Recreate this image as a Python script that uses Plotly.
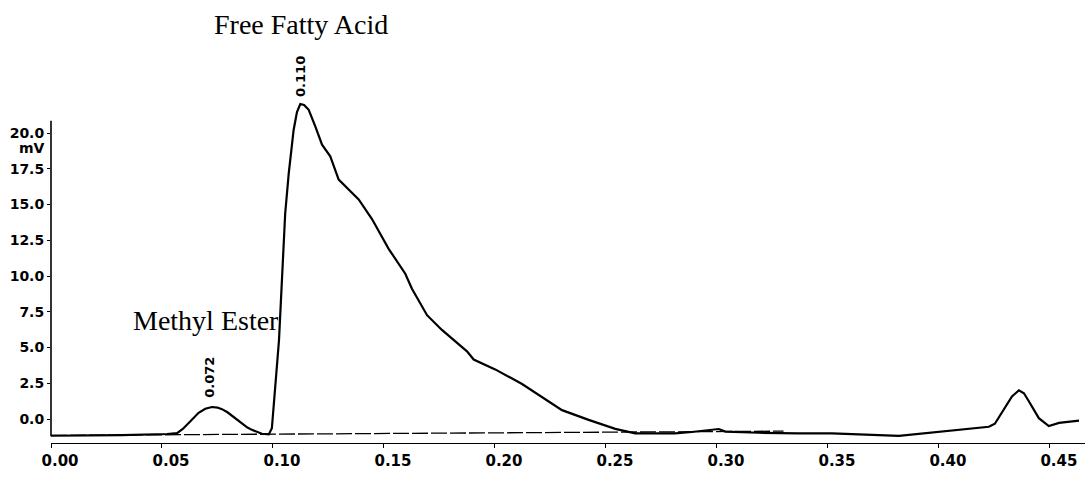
import plotly.graph_objects as go

# Retention time (min) and detector signal (mV)
time_min = [0.000, 0.032, 0.0523, 0.0568, 0.0595, 0.0620, 0.0645, 0.0665, 0.0695, 0.0725,
            0.0750, 0.0770, 0.0795, 0.0815, 0.0840, 0.0860, 0.0885, 0.0905, 0.0930, 0.0950,
            0.0981, 0.0995, 0.1027, 0.1041, 0.1055, 0.1071, 0.1093, 0.1108,
            0.1123, 0.1140, 0.1161, 0.1191, 0.1221, 0.1258, 0.1296, 0.1386, 0.1446, 0.1521,
            0.1596, 0.1626, 0.1694, 0.1761, 0.1874, 0.1904, 0.2001, 0.2122, 0.2212, 0.2302,
            0.2422, 0.2542, 0.2632, 0.2811, 0.2887, 0.3008, 0.3038, 0.3188, 0.3368, 0.3518,
            0.3820, 0.3968, 0.4117, 0.4225, 0.4252, 0.4297, 0.4329, 0.4360, 0.4383, 0.4405,
            0.4450, 0.4495, 0.4541, 0.4631]
signal_mv = [-1.17, -1.13, -1.05, -0.99, -0.68, -0.28, 0.12, 0.43, 0.72, 0.84,
             0.80, 0.69, 0.47, 0.22, -0.10, -0.35, -0.60, -0.76, -0.93, -1.03,
             -1.08, -0.65, 5.50, 9.71, 14.37, 17.17, 20.21, 21.47,
             22.03, 21.96, 21.62, 20.45, 19.18, 18.37, 16.74, 15.36, 13.98, 11.90,
             10.16, 9.11, 7.26, 6.23, 4.73, 4.16, 3.47, 2.45, 1.53, 0.62,
             -0.06, -0.69, -1.00, -1.00, -0.91, -0.70, -0.88, -0.96, -1.00, -1.01,
             -1.18, -0.94, -0.70, -0.54, -0.33, 0.73, 1.58, 2.00, 1.80, 1.24,
             0.06, -0.49, -0.27, -0.11]

# Integration baseline
baseline_time = [0.0, 0.33]
baseline_mv = [-1.15, -0.85]

# Axis ticks
x_tick_vals = [0.00, 0.05, 0.10, 0.15, 0.20, 0.25, 0.30, 0.35, 0.40, 0.45]
x_tick_text = ["0.00", "0.05", "0.10", "0.15", "0.20", "0.25", "0.30", "0.35", "0.40", "0.45"]
y_tick_vals = [0.0, 2.5, 5.0, 7.5, 10.0, 12.5, 15.0, 17.5, 20.0]
y_tick_text = ["0.0", "2.5", "5.0", "7.5", "10.0", "12.5", "15.0", "17.5", "20.0"]

# Peak retention-time labels (y in paper units)
peak_label_text = ["0.072", "0.110"]
peak_label_x = [0.0716, 0.1126]
peak_label_y = [0.190, 1.0546]

# Compound labels (y in paper units)
compound_text = ["Methyl Ester", "Free Fatty Acid"]
compound_x = [0.0700, 0.1126]
compound_y = [0.3506, 1.204]

tick_font = dict(family="DejaVu Sans", size=15, color="black", weight="bold")

fig = go.Figure()
fig.add_trace(go.Scatter(x=baseline_time, y=baseline_mv, mode="lines",
                         line=dict(color="black", width=1.3, dash="16px,3px"),
                         hoverinfo="skip", showlegend=False))
fig.add_trace(go.Scatter(x=time_min, y=signal_mv, mode="lines",
                         line=dict(color="black", width=2.2),
                         showlegend=False))

for t, x, y in zip(peak_label_text, peak_label_x, peak_label_y):
    fig.add_annotation(x=x, y=y, xref="x", yref="paper", text=t, showarrow=False,
                       xanchor="center", yanchor="middle", textangle=-90,
                       font=dict(family="DejaVu Sans", size=13, color="black", weight="bold"))
for t, x, y in zip(compound_text, compound_x, compound_y):
    fig.add_annotation(x=x, y=y, xref="x", yref="paper", text=t, showarrow=False,
                       xanchor="center", yanchor="middle",
                       font=dict(family="Liberation Serif", size=28, color="black"))

fig.add_annotation(x=-0.004, y=18.95, xref="paper", yref="y", text="mV", showarrow=False,
                   xanchor="right", yanchor="middle",
                   font=dict(family="DejaVu Sans", size=14, color="black", weight="bold"))

# y-axis line (shorter than the plot area, as in the original)
fig.add_shape(type="line", xref="paper", yref="y", x0=0, x1=0, y0=-1.2, y1=20.85,
              line=dict(color="black", width=1.6))

fig.update_layout(
    width=1090, height=481,
    margin=dict(l=51, r=5, t=95, b=38),
    plot_bgcolor="white", paper_bgcolor="white",
    xaxis=dict(range=[0.0, 0.4658], tickvals=x_tick_vals, ticktext=x_tick_text,
               showgrid=False, zeroline=False, showline=True, linecolor="black",
               linewidth=1.4, ticks="outside", ticklen=4, tickwidth=1.2,
               tickcolor="black", tickfont=tick_font, ticklabelshift=9),
    yaxis=dict(range=[-1.678, 22.657], tickvals=y_tick_vals, ticktext=y_tick_text,
               showgrid=False, zeroline=False, showline=False,
               ticks="outside", ticklen=3, tickwidth=1.2, tickcolor="black",
               tickfont=dict(family="DejaVu Sans", size=14, color="black", weight="bold")),
)

fig.write_html("out.html")
